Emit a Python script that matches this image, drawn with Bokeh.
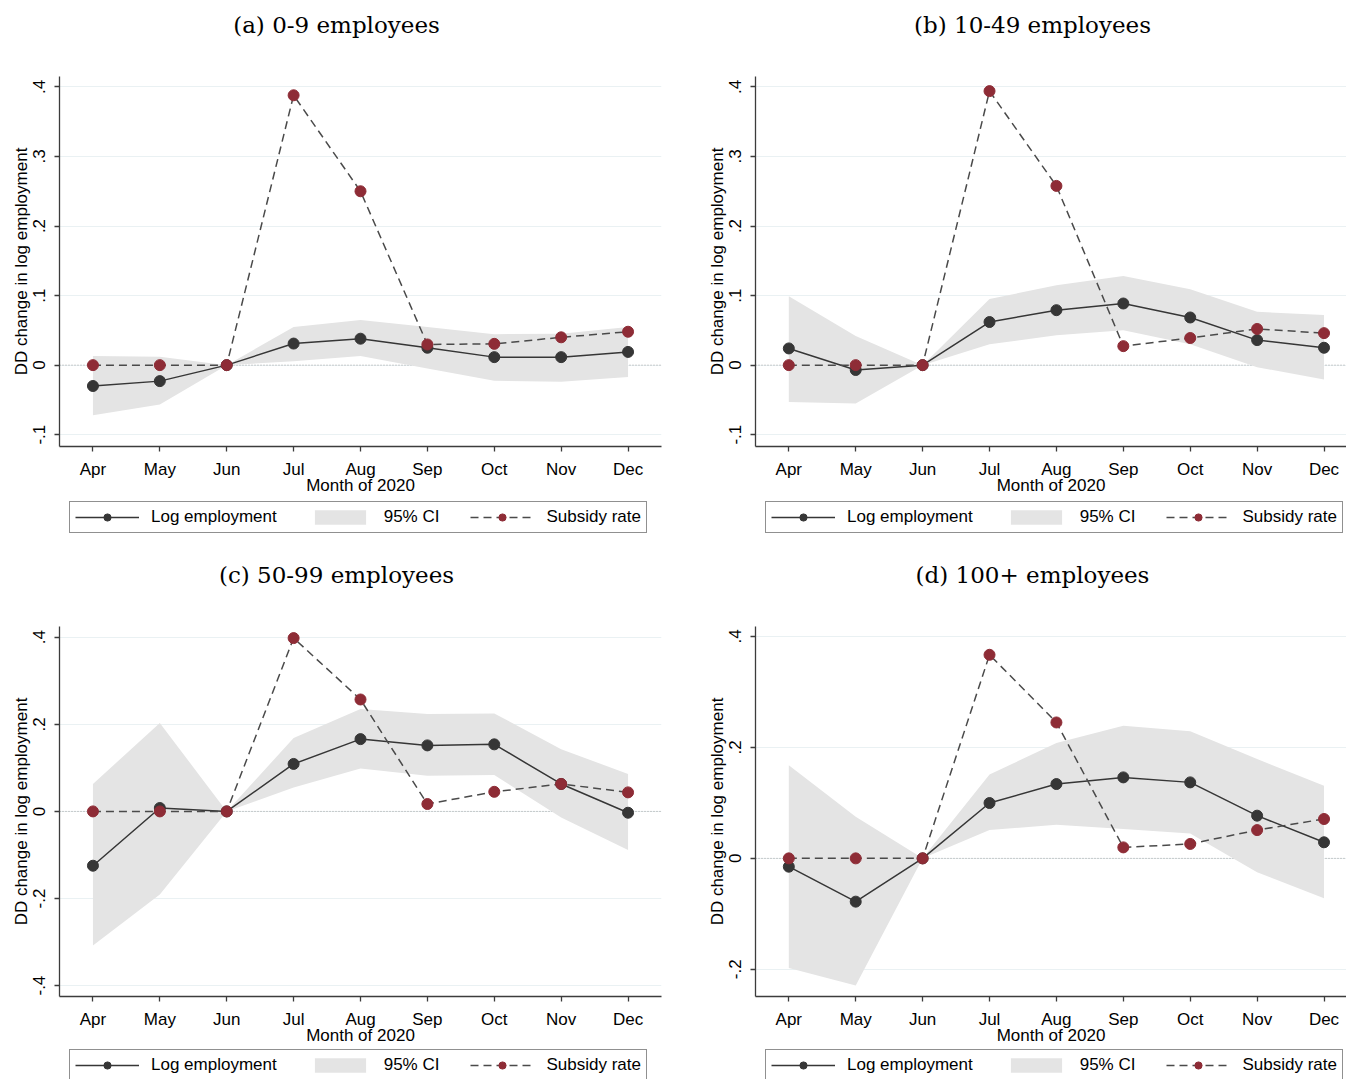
from bokeh.plotting import figure
from bokeh.models import Range1d, FixedTicker, Span, Legend, LegendItem, Label
from bokeh.layouts import column, row
from bokeh.embed import file_html
from bokeh.resources import INLINE

# ---------------- data ----------------
months = ["Apr", "May", "Jun", "Jul", "Aug", "Sep", "Oct", "Nov", "Dec"]

titles = ["(a) 0-9 employees", "(b) 10-49 employees",
          "(c) 50-99 employees", "(d) 100+ employees"]

a_emp = [-0.030, -0.023, 0.0, 0.031, 0.038, 0.025, 0.0115, 0.0115, 0.019]
a_lo = [-0.072, -0.0565, 0.0, 0.0057, 0.013, -0.005, -0.0225, -0.024, -0.017]
a_hi = [0.013, 0.012, 0.0, 0.055, 0.065, 0.055, 0.0445, 0.045, 0.055]
a_sub = [0.0, 0.0, 0.0, 0.388, 0.250, 0.0297, 0.0306, 0.040, 0.048]

b_emp = [0.024, -0.007, 0.0, 0.062, 0.079, 0.0886, 0.0685, 0.036, 0.025]
b_lo = [-0.053, -0.055, 0.0, 0.030, 0.043, 0.050, 0.030, -0.003, -0.0206]
b_hi = [0.099, 0.042, 0.0, 0.095, 0.115, 0.128, 0.109, 0.0766, 0.072]
b_sub = [0.0, 0.0, 0.0, 0.394, 0.2577, 0.0273, 0.039, 0.052, 0.046]

c_emp = [-0.1247, 0.0078, 0.0, 0.109, 0.166, 0.1516, 0.154, 0.063, -0.003]
c_lo = [-0.308, -0.191, 0.0, 0.055, 0.0988, 0.082, 0.0835, -0.0138, -0.0887]
c_hi = [0.063, 0.203, 0.0, 0.1685, 0.235, 0.2236, 0.225, 0.143, 0.0858]
c_sub = [0.0, 0.0, 0.0, 0.398, 0.257, 0.017, 0.045, 0.063, 0.0437]

d_emp = [-0.015, -0.078, 0.0, 0.0998, 0.134, 0.146, 0.137, 0.077, 0.029]
d_lo = [-0.1975, -0.229, 0.0, 0.051, 0.0607, 0.053, 0.045, -0.025, -0.072]
d_hi = [0.168, 0.075, 0.0, 0.151, 0.208, 0.239, 0.229, 0.179, 0.131]
d_sub = [0.0, 0.0, 0.0, 0.367, 0.245, 0.0198, 0.026, 0.051, 0.071]

yticks_ab = [-0.1, 0.0, 0.1, 0.2, 0.3, 0.4]
ylabels_ab = ["-.1", "0", ".1", ".2", ".3", ".4"]
yticks_c = [-0.4, -0.2, 0.0, 0.2, 0.4]
ylabels_c = ["-.4", "-.2", "0", ".2", ".4"]
yticks_d = [-0.2, 0.0, 0.2, 0.4]
ylabels_d = ["-.2", "0", ".2", ".4"]

legend_labels = ["Log employment", "95% CI", "Subsidy rate"]

# ---------------- styling ----------------
SANS = "Liberation Sans"
SERIF = "DejaVu Serif"
EMP_COL = "#363636"
SUB_COL = "#8E2C36"
SUB_LINE = "#4A4A4A"
CI_COL = "#E4E4E4"
GRID_COL = "#EAF1F3"
AX_COL = "#3C3C3C"
SUB_DASH = "8 5"
MSIZE = 11


def blank_fig(w, h, bl, br):
    p = figure(width=w, height=h, output_backend="svg", toolbar_location=None,
               x_axis_type=None, y_axis_type=None,
               x_range=Range1d(0, w - bl - br), y_range=Range1d(0, h),
               min_border_left=bl, min_border_right=br,
               min_border_top=0, min_border_bottom=0)
    p.outline_line_color = None
    p.background_fill_color = "white"
    p.border_fill_color = "white"
    return p


def title_fig(text, w, h, bl, br, center_x, center_from_top):
    p = blank_fig(w, h, bl, br)
    p.add_layout(Label(x=center_x, y=h - center_from_top, text=text,
                       text_font=SERIF, text_font_size="23px",
                       text_color="black", text_align="center",
                       text_baseline="middle"))
    return p


def legend_fig(emp, lo, hi, sub, w, h, bl, br, lx, ly):
    # the legend keys re-use the panel's series (hidden) so Bokeh draws real keys
    xs = list(range(len(months)))
    p = blank_fig(w, h, bl, br)
    ll = p.line(xs, emp, line_color=EMP_COL, line_width=1.5, visible=False)
    lp = p.scatter(xs, emp, size=MSIZE, fill_color=EMP_COL, line_color=EMP_COL, visible=False)
    ca = p.varea(x=xs, y1=lo, y2=hi, fill_color=CI_COL, fill_alpha=1.0, visible=False)
    sl = p.line(xs, sub, line_color=SUB_LINE, line_width=1.5, line_dash=SUB_DASH, visible=False)
    sp = p.scatter(xs, sub, size=MSIZE, fill_color=SUB_COL, line_color=SUB_COL, visible=False)
    legend = Legend(items=[
        LegendItem(label=legend_labels[0], renderers=[ll, lp]),
        LegendItem(label=legend_labels[1], renderers=[ca]),
        LegendItem(label=legend_labels[2], renderers=[sl, sp]),
    ], orientation="horizontal", location=(lx, ly))
    legend.label_text_font = SANS
    legend.label_text_font_size = "17px"
    legend.label_text_color = "black"
    legend.label_height = 19
    legend.glyph_width = 64
    legend.glyph_height = 18
    legend.label_standoff = 12
    legend.spacing = 31
    legend.padding = 5
    legend.margin = 0
    legend.border_line_color = "#222222"
    legend.border_line_width = 1
    legend.background_fill_color = "white"
    legend.background_fill_alpha = 1.0
    legend.inactive_fill_alpha = 0.0
    legend.click_policy = "none"
    p.add_layout(legend, "center")
    return p


def main_fig(emp, lo, hi, sub, yticks, ylabels, yr, xr, w, h, bl, br, bt, bb):
    xs = list(range(len(months)))
    p = figure(width=w, height=h, output_backend="svg", toolbar_location=None,
               x_range=Range1d(*xr), y_range=Range1d(*yr),
               min_border_left=bl, min_border_right=br,
               min_border_top=bt, min_border_bottom=bb)
    p.outline_line_color = None
    p.background_fill_color = "white"
    p.border_fill_color = "white"

    p.xaxis.ticker = FixedTicker(ticks=xs)
    p.xaxis.major_label_overrides = {i: m for i, m in enumerate(months)}
    p.yaxis.ticker = FixedTicker(ticks=yticks)
    p.yaxis.major_label_overrides = {t: l for t, l in zip(yticks, ylabels)}
    p.yaxis.major_label_orientation = "vertical"
    p.xaxis.axis_label = "Month of 2020"
    p.yaxis.axis_label = "DD change in log employment"
    for ax in (p.xaxis[0], p.yaxis[0]):
        ax.axis_line_color = AX_COL
        ax.axis_line_width = 1.3
        ax.major_tick_line_color = AX_COL
        ax.major_tick_line_width = 1.3
        ax.major_tick_out = 5
        ax.major_tick_in = 0
        ax.minor_tick_out = 0
        ax.minor_tick_in = 0
        ax.major_label_text_font = SANS
        ax.major_label_text_font_size = "17px"
        ax.major_label_text_color = "black"
        ax.axis_label_text_font = SANS
        ax.axis_label_text_font_size = "17px"
        ax.axis_label_text_font_style = "normal"
        ax.axis_label_text_color = "black"
    p.xaxis.major_label_standoff = 8
    p.xaxis.axis_label_standoff = -6
    p.yaxis.major_label_standoff = 9
    p.yaxis.axis_label_standoff = 0

    p.xgrid.visible = False
    p.ygrid.ticker = FixedTicker(ticks=yticks)
    p.ygrid.grid_line_color = GRID_COL
    p.ygrid.grid_line_width = 1.2

    p.add_layout(Span(location=0, dimension="width", line_color="#A0A0A0",
                      line_dash="1 2", line_width=1, level="underlay"))

    p.varea(x=xs, y1=lo, y2=hi, fill_color=CI_COL, fill_alpha=1.0)
    p.line(xs, emp, line_color=EMP_COL, line_width=1.5)
    p.scatter(xs, emp, size=MSIZE, fill_color=EMP_COL, line_color=EMP_COL)
    p.line(xs, sub, line_color=SUB_LINE, line_width=1.5, line_dash=SUB_DASH)
    p.scatter(xs, sub, size=MSIZE, fill_color=SUB_COL, line_color=SUB_COL)
    return p


# geometry: left column 696 px wide, right column 650 px (cropped like the source)
WL, WR = 696, 650
BL_L, BR_L = 59, 35
BL_R, BR_R = 59, 0
TITLE_X = 277
xr_left = (-0.5, 8.5)
xr_right = (-0.498, 8.336)

# row 1
ta = title_fig(titles[0], WL, 68, BL_L, BR_L, TITLE_X, 24)
tb = title_fig(titles[1], WR, 68, BL_R, BR_R, TITLE_X, 24)
pa = main_fig(a_emp, a_lo, a_hi, a_sub, yticks_ab, ylabels_ab, (-0.117, 0.415),
              xr_left, WL, 430, BL_L, BR_L, 8, 52)
pb = main_fig(b_emp, b_lo, b_hi, b_sub, yticks_ab, ylabels_ab, (-0.117, 0.415),
              xr_right, WR, 430, BL_R, BR_R, 8, 52)
la = legend_fig(a_emp, a_lo, a_hi, a_sub, WL, 52, BL_L, BR_L, 10, 17)
lb = legend_fig(b_emp, b_lo, b_hi, b_sub, WR, 52, BL_R, BR_R, 10, 17)

# row 2
tc = title_fig(titles[2], WL, 68, BL_L, BR_L, TITLE_X, 24)
td = title_fig(titles[3], WR, 68, BL_R, BR_R, TITLE_X, 24)
pc = main_fig(c_emp, c_lo, c_hi, c_sub, yticks_c, ylabels_c, (-0.425, 0.4246),
              xr_left, WL, 430, BL_L, BR_L, 8, 52)
pd = main_fig(d_emp, d_lo, d_hi, d_sub, yticks_d, ylabels_d, (-0.249, 0.418),
              xr_right, WR, 430, BL_R, BR_R, 8, 52)
lc = legend_fig(c_emp, c_lo, c_hi, c_sub, WL, 31, BL_L, BR_L, 10, -2)
ld = legend_fig(d_emp, d_lo, d_hi, d_sub, WR, 31, BL_R, BR_R, 10, -2)

layout = column(row(ta, tb), row(pa, pb), row(la, lb),
                row(tc, td), row(pc, pd), row(lc, ld))

with open("out.html", "w") as f:
    f.write(file_html(layout, INLINE))
